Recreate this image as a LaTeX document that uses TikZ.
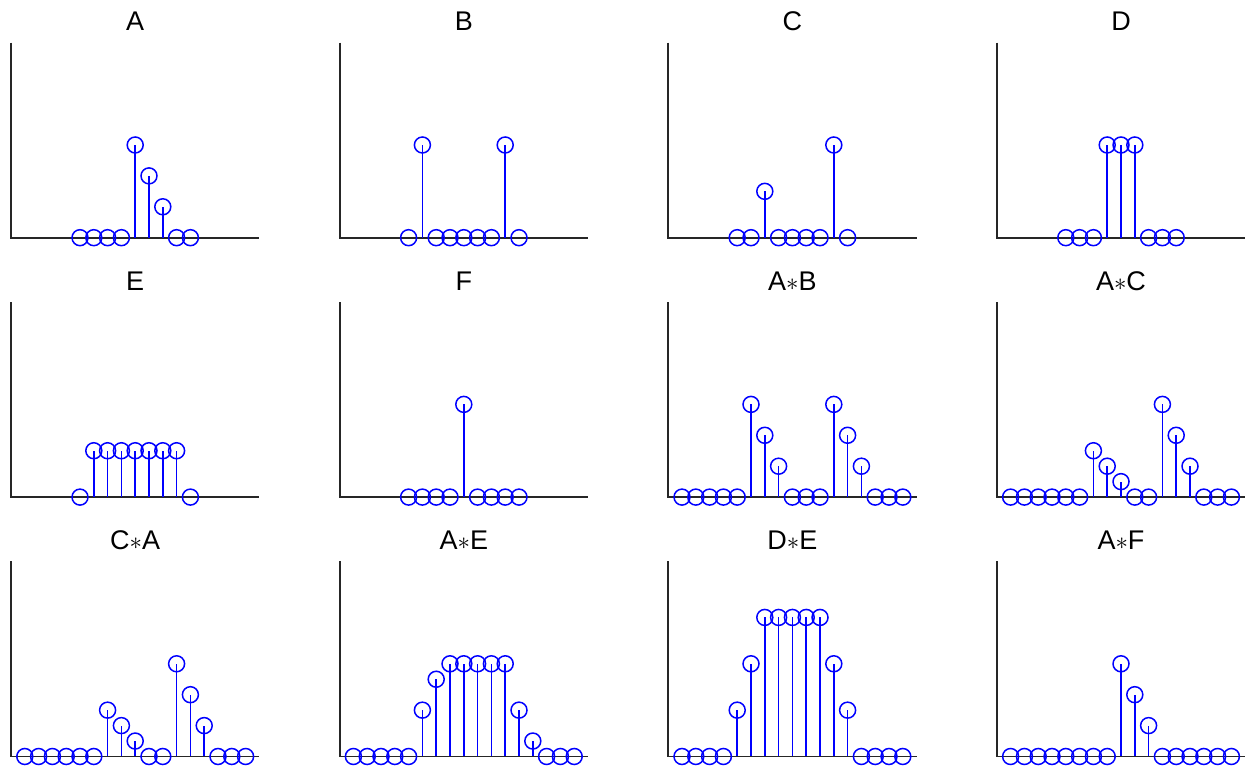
\documentclass[tikz,border=0pt]{standalone}
\usepackage{fontspec}
\setmainfont{Liberation Sans}
\tikzset{
  axisline/.style={black!85, line width=1.9pt},
  stemline/.style={blue, line width=1.5pt},
  stemmark/.style={blue, line width=1.5pt},
  plottitle/.style={font=\fontsize{27}{30}\selectfont, anchor=base},
}
% #1,#2 corner of the axes (pt), #3 name, #4 title, #5 first index, #6 values
\newcommand{\stempanel}[6]{%
  \begin{scope}[shift={(#1pt,#2pt)}, x=13.8pt, y=92.7pt]
    \node[plottitle] (#3) at (9, 2.23) {#4};
    \draw[axisline] (0, 2.104) -- (0, 0) -- (18, 0);
    \foreach \v [count=\k from #5] in {#6} {
      \draw[stemline] (\k, 0) -- (\k, \v);
      \draw[stemmark] (\k, \v) circle[radius=8pt];
    }
  \end{scope}}
\begin{document}
\begin{tikzpicture}
    \useasboundingbox (0, 0) rectangle (1247pt, 767pt);
    % the signals
    \stempanel{11}{529.3}{sigA}{A}{5}{0,0,0,0,1,0.6667,0.3333,0,0}
    \stempanel{339.6}{529.3}{sigB}{B}{5}{0,1,0,0,0,0,0,1,0}
    \stempanel{668.2}{529.3}{sigC}{C}{5}{0,0,0.5,0,0,0,0,1,0}
    \stempanel{996.8}{529.3}{sigD}{D}{5}{0,0,0,1,1,1,0,0,0}
    \stempanel{11}{269.9}{sigE}{E}{5}{0,0.5,0.5,0.5,0.5,0.5,0.5,0.5,0}
    \stempanel{339.6}{269.9}{sigF}{F}{5}{0,0,0,0,1,0,0,0,0}
    % the convolutions
    \stempanel{668.2}{269.9}{convAB}{A$\ast$B}{1}{0,0,0,0,0,1,0.6667,0.3333,0,0,0,1,0.6667,0.3333,0,0,0}
    \stempanel{996.8}{269.9}{convAC}{A$\ast$C}{1}{0,0,0,0,0,0,0.5,0.3333,0.1667,0,0,1,0.6667,0.3333,0,0,0}
    \stempanel{11}{10.5}{convCA}{C$\ast$A}{1}{0,0,0,0,0,0,0.5,0.3333,0.1667,0,0,1,0.6667,0.3333,0,0,0}
    \stempanel{339.6}{10.5}{convAE}{A$\ast$E}{1}{0,0,0,0,0,0.5,0.8333,1,1,1,1,1,0.5,0.1667,0,0,0}
    \stempanel{668.2}{10.5}{convDE}{D$\ast$E}{1}{0,0,0,0,0.5,1,1.5,1.5,1.5,1.5,1.5,1,0.5,0,0,0,0}
    \stempanel{996.8}{10.5}{convAF}{A$\ast$F}{1}{0,0,0,0,0,0,0,0,1,0.6667,0.3333,0,0,0,0,0,0}
    %\node at (623, 760) {convolutions};
\end{tikzpicture}
\end{document}
